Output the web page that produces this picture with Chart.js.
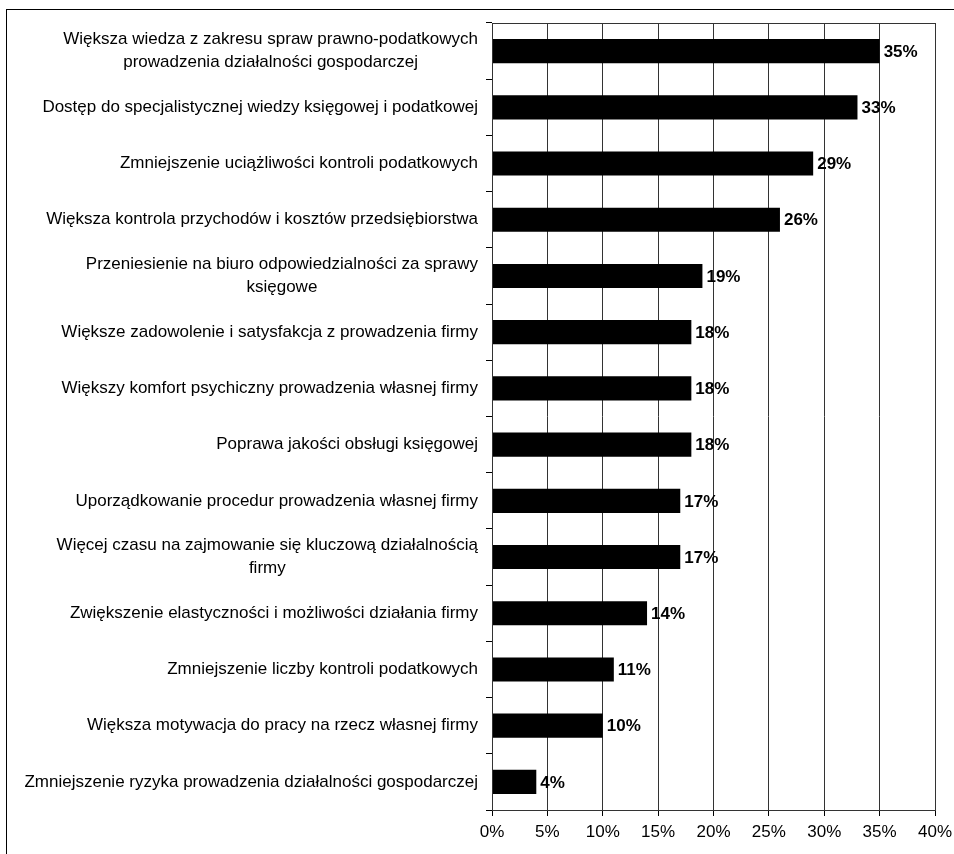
<!DOCTYPE html>
<html lang="pl">
<head>
    <meta charset="UTF-8">
    <title>Korzyści ze współpracy z biurem rachunkowym</title>
    <script src="https://cdn.jsdelivr.net/npm/chart.js"></script>
    <style>
        body { margin: 0; background: #fff; overflow: hidden; }
        .frame { position: absolute; left: 6px; top: 9px; width: 1000px; height: 900px; border: 1px solid #000; }
        #chart { position: absolute; left: 0; top: 0; }
    </style>
</head>
<body>
<div class="frame"></div>
<canvas id="chart" width="954" height="854"></canvas>
<script>
    // categories (multi-line ones as arrays) and their shares in %
    const categories = [
        ['Większa wiedza z zakresu spraw prawno-podatkowych', 'prowadzenia działalności gospodarczej'],
        'Dostęp do specjalistycznej wiedzy księgowej i podatkowej',
        'Zmniejszenie uciążliwości kontroli podatkowych',
        'Większa kontrola przychodów i kosztów przedsiębiorstwa',
        ['Przeniesienie na biuro odpowiedzialności za sprawy', 'księgowe'],
        'Większe zadowolenie i satysfakcja z prowadzenia firmy',
        'Większy komfort psychiczny prowadzenia własnej firmy',
        'Poprawa jakości obsługi księgowej',
        'Uporządkowanie procedur prowadzenia własnej firmy',
        ['Więcej czasu na zajmowanie się kluczową działalnością', 'firmy'],
        'Zwiększenie elastyczności i możliwości działania firmy',
        'Zmniejszenie liczby kontroli podatkowych',
        'Większa motywacja do pracy na rzecz własnej firmy',
        'Zmniejszenie ryzyka prowadzenia działalności gospodarczej'
    ];
    const values = [35, 33, 29, 26, 19, 18, 18, 18, 17, 17, 14, 11, 10, 4];
    const xMax = 40;
    const xStep = 5;

    const FONT = '"Liberation Sans", Arial, sans-serif';

    // category labels: right-aligned block, lines centred within it
    const yLabels = {
        id: 'yLabels',
        afterDraw(chart) {
            const ctx = chart.ctx;
            const y = chart.scales.y;
            ctx.save();
            ctx.font = '17px ' + FONT;
            ctx.fillStyle = '#000';
            ctx.textAlign = 'center';
            ctx.textBaseline = 'middle';
            const right = y.right - 14;
            categories.forEach((lab, i) => {
                const lines = Array.isArray(lab) ? lab : [lab];
                const w = Math.max(...lines.map(l => ctx.measureText(l).width));
                const cx = right - w / 2;
                const lh = 23;
                const top = y.getPixelForValue(i) - (lines.length - 1) * lh / 2;
                lines.forEach((l, k) => ctx.fillText(l, cx, top + k * lh));
            });
            ctx.restore();
        }
    };

    // value labels at the end of each bar + plot border
    const valueLabels = {
        id: 'valueLabels',
        afterDatasetsDraw(chart) {
            const ctx = chart.ctx;
            const a = chart.chartArea;
            ctx.save();
            ctx.strokeStyle = '#333';
            ctx.lineWidth = 1;
            ctx.strokeRect(a.left + 0.5, a.top + 0.5, a.right - a.left, a.bottom - a.top);
            ctx.font = 'bold 17px ' + FONT;
            ctx.fillStyle = '#000';
            ctx.textBaseline = 'middle';
            chart.getDatasetMeta(0).data.forEach((bar, i) => {
                ctx.fillText(values[i] + '%', bar.x + 4, bar.y + 1);
            });
            ctx.restore();
        }
    };

    new Chart(document.getElementById('chart'), {
        type: 'bar',
        data: {
            labels: categories,
            datasets: [{
                data: values,
                backgroundColor: '#000',
                borderColor: '#000',
                borderWidth: 0,
                barPercentage: 0.43,
                categoryPercentage: 1
            }]
        },
        options: {
            indexAxis: 'y',
            responsive: false,
            animation: false,
            layout: { padding: { top: 23, right: 19, left: 0, bottom: 0 } },
            plugins: {
                legend: { display: false },
                tooltip: { enabled: false }
            },
            scales: {
                x: {
                    min: 0,
                    max: xMax,
                    ticks: {
                        stepSize: xStep,
                        padding: 6,
                        color: '#000',
                        font: { family: FONT, size: 17 },
                        callback: v => v + '%'
                    },
                    grid: { color: '#333', tickLength: 6, tickColor: '#000' },
                    border: { color: '#000' },
                    afterFit: s => { s.height = 44; s.paddingRight = 0; s.paddingLeft = 0; }
                },
                y: {
                    offset: true,
                    ticks: { display: false },
                    grid: { drawOnChartArea: false, offset: true, tickLength: 6, color: '#000' },
                    border: { color: '#000' },
                    afterFit: s => { s.width = 492; }
                }
            }
        },
        plugins: [yLabels, valueLabels]
    });
</script>
</body>
</html>
